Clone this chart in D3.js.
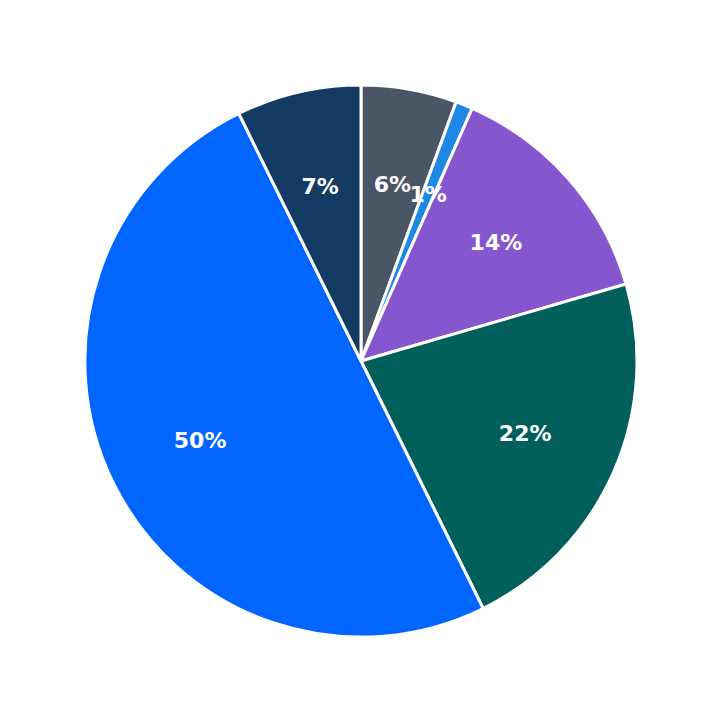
<!DOCTYPE html>
<html><head><meta charset="utf-8">
<script src="https://cdn.jsdelivr.net/npm/d3@7"></script>
<style>body{margin:0;background:#fff}</style></head>
<body><svg id="chart" width="723" height="723"></svg>
<script>
// slice values (clockwise from 12 o'clock)
var labels = ["6%", "1%", "14%", "22%", "50%", "7%"];
var values = [5.6, 1.0, 13.9, 22.2, 50.0, 7.3];
var colors = ["#4a5565", "#1e88e5", "#8656cf", "#005f5b", "#0066ff", "#133a63"];

var cx = 361, cy = 361, r = 276;
var svg = d3.select("#chart");
var g = svg.append("g").attr("transform", "translate(" + cx + "," + cy + ")");

var pie = d3.pie().sort(null).value(function(d){ return d; });
var arcs = pie(values);
var arc = d3.arc().innerRadius(0).outerRadius(r);
var labelArc = d3.arc().innerRadius(r * 0.65).outerRadius(r * 0.65);

g.selectAll("path").data(arcs).enter().append("path")
  .attr("d", arc)
  .attr("fill", function(d, i){ return colors[i]; })
  .attr("stroke", "#fff").attr("stroke-width", 3);

g.selectAll("text").data(arcs).enter().append("text")
  .attr("transform", function(d){ return "translate(" + labelArc.centroid(d) + ")"; })
  .attr("text-anchor", "middle").attr("dy", "0.35em")
  .attr("fill", "#fff")
  .style("font", "bold 22px 'DejaVu Sans', sans-serif")
  .text(function(d, i){ return labels[i]; });
</script></body></html>
